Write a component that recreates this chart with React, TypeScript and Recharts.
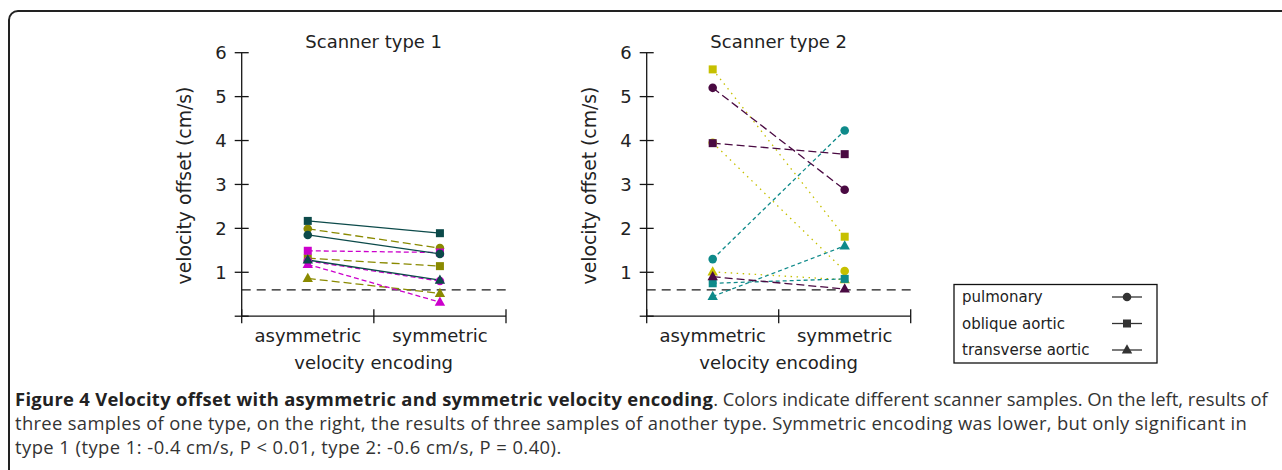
import React from 'react';
import { LineChart, Line, XAxis, YAxis, ReferenceLine } from 'recharts';

// ---------- data ----------
const categories = ['asymmetric', 'symmetric'];
const categoryPositions = [0.5, 1.5];
const xBoundaryTicks = [0, 1, 2];
const yTicks = [0, 1, 2, 3, 4, 5, 6];
const yTickLabels = ['', '1', '2', '3', '4', '5', '6'];
const referenceValue = 0.6;

const vessels = ['pulmonary', 'oblique aortic', 'transverse aortic'];
const vesselShapes = ['circle', 'square', 'triangle'];

const chartTitles = ['Scanner type 1', 'Scanner type 2'];
const yAxisTitle = 'velocity offset (cm/s)';
const xAxisTitle = 'velocity encoding';

// Scanner type 1 — [asymmetric, symmetric] per vessel
const type1SampleOlivePulmonary = [1.99, 1.55];
const type1SampleOliveOblique = [1.32, 1.14];
const type1SampleOliveTransverse = [0.86, 0.52];
const type1SampleMagentaPulmonary = [1.26, 0.8];
const type1SampleMagentaOblique = [1.49, 1.45];
const type1SampleMagentaTransverse = [1.18, 0.32];
const type1SampleTealPulmonary = [1.85, 1.42];
const type1SampleTealOblique = [2.17, 1.89];
const type1SampleTealTransverse = [1.28, 0.82];

// Scanner type 2
const type2SampleYellowPulmonary = [3.95, 1.03];
const type2SampleYellowOblique = [5.62, 1.81];
const type2SampleYellowTransverse = [1.01, 0.83];
const type2SampleTealPulmonary = [1.3, 4.23];
const type2SampleTealOblique = [0.75, 0.85];
const type2SampleTealTransverse = [0.45, 1.6];
const type2SamplePurplePulmonary = [5.2, 2.88];
const type2SamplePurpleOblique = [3.94, 3.69];
const type2SamplePurpleTransverse = [0.9, 0.62];

const caption1Bold = 'Figure 4 Velocity offset with asymmetric and symmetric velocity encoding';
const caption1Rest = '. Colors indicate different scanner samples. On the left, results of';
const caption2 = 'three samples of one type, on the right, the results of three samples of another type. Symmetric encoding was lower, but only significant in';
const caption3 = 'type 1 (type 1: -0.4 cm/s, P < 0.01, type 2: -0.6 cm/s, P = 0.40).';

// ---------- styles ----------
const AXIS = '#151515';
const CHART_FONT = '"DejaVu Sans", sans-serif';
const CHART_FONT_SIZE = 18;

type Sample = { color: string; dash: string; values: number[][] };

const type1Samples: Sample[] = [
  { color: '#8a8a00', dash: '8 4', values: [type1SampleOlivePulmonary, type1SampleOliveOblique, type1SampleOliveTransverse] },
  { color: '#cc00cc', dash: '5 3', values: [type1SampleMagentaPulmonary, type1SampleMagentaOblique, type1SampleMagentaTransverse] },
  { color: '#0c4a4a', dash: '', values: [type1SampleTealPulmonary, type1SampleTealOblique, type1SampleTealTransverse] },
];
const type2Samples: Sample[] = [
  { color: '#c6c000', dash: '1.5 4.5', values: [type2SampleYellowPulmonary, type2SampleYellowOblique, type2SampleYellowTransverse] },
  { color: '#0e8a8a', dash: '4 3', values: [type2SampleTealPulmonary, type2SampleTealOblique, type2SampleTealTransverse] },
  { color: '#4a0a42', dash: '8 4', values: [type2SamplePurplePulmonary, type2SamplePurpleOblique, type2SamplePurpleTransverse] },
];

function buildRows(samples: Sample[]) {
  return categoryPositions.map((x, ci) => {
    const row: Record<string, number> = { x };
    samples.forEach((s, si) => s.values.forEach((v, vi) => { row[`s${si}v${vi}`] = v[ci]; }));
    return row;
  });
}

function Marker({ shape, color, cx, cy }: { shape: string; color: string; cx: number; cy: number }) {
  if (shape === 'circle') return <circle cx={cx} cy={cy} r={4.3} fill={color} />;
  if (shape === 'square') return <rect x={cx - 4} y={cy - 4} width={8} height={8} fill={color} />;
  return <polygon points={`${cx},${cy - 5.7} ${cx - 5.2},${cy + 3.6} ${cx + 5.2},${cy + 3.6}`} fill={color} />;
}

const makeDot = (shape: string, color: string) => (props: any) => {
  const { cx, cy, index } = props;
  if (cx == null || cy == null) return <g key={`d${index}`} />;
  return <g key={`d${index}`}><Marker shape={shape} color={color} cx={cx} cy={cy} /></g>;
};

const YTick = (props: any) => {
  const { x, y, payload } = props;
  const label = yTickLabels[yTicks.indexOf(payload.value)];
  return (
    <g>
      <line x1={x - 7} x2={x + 7} y1={y} y2={y} stroke={AXIS} strokeWidth={1.3} />
      {label ? (
        <text x={x - 15} y={y} dy="0.36em" textAnchor="end" fontFamily={CHART_FONT} fontSize={CHART_FONT_SIZE} fill="#222">{label}</text>
      ) : null}
    </g>
  );
};

const XTick = (props: any) => {
  const { x, y, payload } = props;
  const v = payload.value;
  const b = xBoundaryTicks.indexOf(v);
  const c = categoryPositions.indexOf(v);
  return (
    <g>
      {b >= 0 ? <line x1={x} x2={x} y1={y - 7} y2={y + 7} stroke={AXIS} strokeWidth={1.3} /> : null}
      {c >= 0 ? (
        <text x={x} y={y + 25.5} textAnchor="middle" fontFamily={CHART_FONT} fontSize={CHART_FONT_SIZE} fill="#222">{categories[c]}</text>
      ) : null}
    </g>
  );
};

function Panel({ samples, left, marginLeft, marginRight }: { samples: Sample[]; left: number; marginLeft: number; marginRight: number }) {
  const rows = buildRows(samples);
  return (
    <div style={{ position: 'absolute', left, top: 0 }}>
      <LineChart width={560} height={380} data={rows} margin={{ top: 52.7, right: marginRight, bottom: 23.8, left: marginLeft }}>
        <XAxis
          dataKey="x"
          type="number"
          domain={[0, 2]}
          ticks={[0, 0.5, 1, 1.5, 2]}
          interval={0}
          height={40}
          tickSize={0}
          tickMargin={0}
          tickLine={false}
          axisLine={{ stroke: AXIS, strokeWidth: 1.3 }}
          tick={<XTick />}
        />
        <YAxis
          type="number"
          domain={[0, 6]}
          ticks={yTicks}
          interval={0}
          width={40}
          tickSize={0}
          tickMargin={0}
          tickLine={false}
          axisLine={{ stroke: AXIS, strokeWidth: 1.3 }}
          tick={<YTick />}
        />
        <ReferenceLine y={referenceValue} stroke="#1a1a1a" strokeWidth={1.3} strokeDasharray="9 6" />
        {samples.map((s, si) =>
          vessels.map((_, vi) => (
            <Line
              key={`s${si}v${vi}`}
              dataKey={`s${si}v${vi}`}
              stroke={s.color}
              strokeWidth={1.3}
              strokeDasharray={s.dash || undefined}
              isAnimationActive={false}
              dot={makeDot(vesselShapes[vi], s.color)}
              activeDot={false}
            />
          ))
        )}
      </LineChart>
    </div>
  );
}

export default function App() {
  const textStyle = { fontFamily: CHART_FONT, fontSize: CHART_FONT_SIZE, fill: '#222' } as const;
  const axisXs = [241.7, 646.7];
  return (
    <div style={{ position: 'absolute', left: 0, top: 0, width: 1282, height: 470, overflow: 'hidden', background: '#fff' }}>
      <div style={{ position: 'absolute', left: 8, top: 10, width: 1300, height: 520, border: '2px solid #222', borderRadius: 10, boxSizing: 'border-box' }} />
      <Panel samples={type1Samples} left={0} marginLeft={201.7} marginRight={54} />
      <Panel samples={type2Samples} left={400} marginLeft={206.7} marginRight={49.3} />
      <svg width={1282} height={470} style={{ position: 'absolute', left: 0, top: 0, pointerEvents: 'none' }}>
        {axisXs.map((ax, i) => (
          <g key={i}>
            <text x={ax + 132} y={47.5} textAnchor="middle" {...textStyle}>{chartTitles[i]}</text>
            <text x={ax + 132} y={369} textAnchor="middle" {...textStyle}>{xAxisTitle}</text>
            <text transform={`translate(${ax - 51},185.5) rotate(-90)`} textAnchor="middle" {...textStyle} fontSize={18.8}>{yAxisTitle}</text>
          </g>
        ))}
        <rect x={954} y={284.5} width={203} height={78.5} fill="#fff" stroke="#111" strokeWidth={1.3} />
        {vessels.map((name, i) => {
          const cy = 297 + i * 26.5;
          return (
            <g key={name}>
              <text x={962} y={cy} dy="0.36em" fontFamily={CHART_FONT} fontSize={15} fill="#222">{name}</text>
              <line x1={1112} x2={1142} y1={cy} y2={cy} stroke="#333" strokeWidth={1.3} />
              <Marker shape={vesselShapes[i]} color="#333" cx={1127} cy={cy} />
            </g>
          );
        })}
      </svg>
      <div style={{ position: 'absolute', left: 15, top: 0, fontFamily: '"Open Sans", sans-serif', fontSize: 18.4, color: '#333', whiteSpace: 'nowrap' }}>
        <div style={{ position: 'absolute', top: 386, left: 0 }}>
          <b style={{ color: '#222', letterSpacing: 0.3 }}>{caption1Bold}</b>{caption1Rest}
        </div>
        <div style={{ position: 'absolute', top: 410, left: 0, letterSpacing: 0.33 }}>{caption2}</div>
        <div style={{ position: 'absolute', top: 434, left: 0, letterSpacing: 0.45 }}>{caption3}</div>
      </div>
    </div>
  );
}
